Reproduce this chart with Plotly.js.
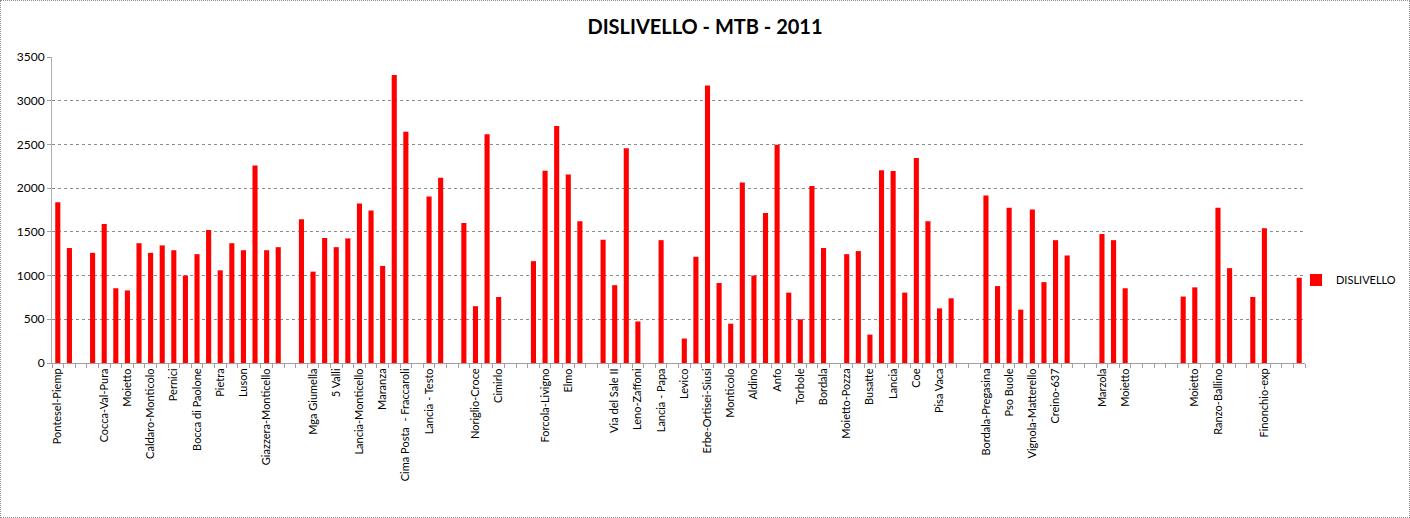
<!DOCTYPE html>
<html>
<head>
<meta charset="utf-8">
<script src="https://cdn.plot.ly/plotly-3.0.1.min.js"></script>
<style>
  html, body { margin: 0; padding: 0; background: #fff; }
  #wrap { position: relative; width: 1410px; height: 518px; }
  #chart { width: 1410px; height: 518px; }
  #frame { position: absolute; left: 0; top: 0; width: 1408px; height: 516px; border: 1px dotted #8c8c8c; pointer-events: none; }
</style>
</head>
<body>
<div id="wrap"><div id="chart"></div><div id="frame"></div></div>
<script>
// Category index (0..107) and climb values (null = empty row)
const values = [
  1840, 1315, null, 1260, 1590, 855, 830, 1370, 1260, 1345,
  1290, 1000, 1245, 1520, 1060, 1370, 1290, 2260, 1290, 1325,
  null, 1645, 1045, 1430, 1325, 1425, 1825, 1745, 1110, 3295,
  2645, null, 1905, 2120, null, 1600, 650, 2615, 755, null,
  null, 1165, 2200, 2710, 2155, 1620, null, 1410, 890, 2455,
  475, null, 1405, null, 280, 1215, 3175, 915, 450, 2065,
  1000, 1715, 2495, 805, 500, 2025, 1315, null, 1245, 1280,
  325, 2205, 2195, 805, 2345, 1620, 625, 740, null, null,
  1915, 880, 1775, 610, 1755, 925, 1405, 1230, null, null,
  1475, 1405, 855, null, null, null, null, 760, 865, null,
  1775, 1085, null, 755, 1540, null, null, 975
];
// Labels shown on the axis (every second category)
const tickLabels = [
  "Pontesel-Piemp", "", "Cocca-Val-Pura", "Moietto", "Caldaro-Monticolo",
  "Pernici", "Bocca di Paolone", "Pietra", "Luson", "Giazzera-Monticello",
  "", "Mga Giumella", "5 Valli", "Lancia-Monticello", "Maranza",
  "Cima Posta  - Fraccaroli", "Lancia - Testo", "", "Noriglio-Croce", "Cimirlo",
  "", "Forcola-Livigno", "Elmo", "", "Via del Sale II",
  "Leno-Zaffoni", "Lancia - Papa", "Levico", "Erbe-Ortisei-Siusi", "Monticolo",
  "Aldino", "Anfo", "Torbole", "Bordala", "Moietto-Pozza",
  "Busatte", "Lancia", "Coe", "Pisa Vaca", "",
  "Bordala-Pregasina", "Pso Buole", "Vignola-Matterello", "Creino-637", "",
  "Marzola", "Moietto", "", "", "Moietto",
  "Ranzo-Ballino", "", "Finonchio-exp", ""
];
const seriesName = "DISLIVELLO";
const chartTitle = "DISLIVELLO - MTB - 2011";
const yTicks = [0, 500, 1000, 1500, 2000, 2500, 3000, 3500];

const xIdx = values.map((v, i) => i);
const tickVals = tickLabels.map((t, i) => i * 2);

const trace = {
  type: 'bar',
  x: xIdx,
  y: values,
  name: seriesName,
  marker: { color: '#ff0000', line: { width: 0 } },
  showlegend: true,
  hoverinfo: 'x+y'
};

const layout = {
  width: 1410,
  height: 518,
  paper_bgcolor: '#ffffff',
  plot_bgcolor: '#ffffff',
  margin: { l: 52, r: 105, t: 57, b: 155, pad: 0, autoexpand: false },
  bargap: 0.56,
  font: { family: 'Lato, "DejaVu Sans", sans-serif', color: '#000000', size: 11 },
  title: {
    text: '<b>' + chartTitle + '</b>',
    x: 0.5, xref: 'container', xanchor: 'center',
    y: 1 - 27 / 518, yref: 'container', yanchor: 'middle',
    font: { family: 'Lato, sans-serif', size: 20, color: '#000000' }
  },
  xaxis: {
    type: 'linear',
    range: [-0.5, values.length - 0.5],
    tickmode: 'array',
    tickvals: tickVals,
    ticktext: tickLabels,
    tickangle: -90,
    ticks: '',
    showgrid: false,
    zeroline: false,
    showline: true,
    linecolor: '#a0a0a0',
    linewidth: 1,
    tickfont: { size: 11, color: '#000000' },
    minor: { tick0: -0.5, dtick: 1, ticks: 'outside', ticklen: 4, tickcolor: '#a0a0a0', tickwidth: 1, showgrid: false },
    fixedrange: true
  },
  yaxis: {
    range: [0, 3500],
    tickmode: 'array',
    tickvals: yTicks,
    ticks: 'outside',
    ticklen: 4,
    tickcolor: '#a0a0a0',
    showgrid: true,
    gridcolor: '#8c8c8c',
    griddash: 'dot',
    gridwidth: 1,
    zeroline: false,
    showline: true,
    linecolor: '#b0b0b0',
    linewidth: 1,
    tickfont: { size: 12, color: '#000000' },
    fixedrange: true
  },
  legend: {
    xref: 'container', x: 1296 / 1410, xanchor: 'left',
    yref: 'container', y: 1 - 280 / 518, yanchor: 'middle',
    font: { size: 11, color: '#000000' },
    bgcolor: 'rgba(0,0,0,0)',
    itemwidth: 30
  }
};

Plotly.newPlot('chart', [trace], layout, { displayModeBar: false, staticPlot: true });
</script>
</body>
</html>
